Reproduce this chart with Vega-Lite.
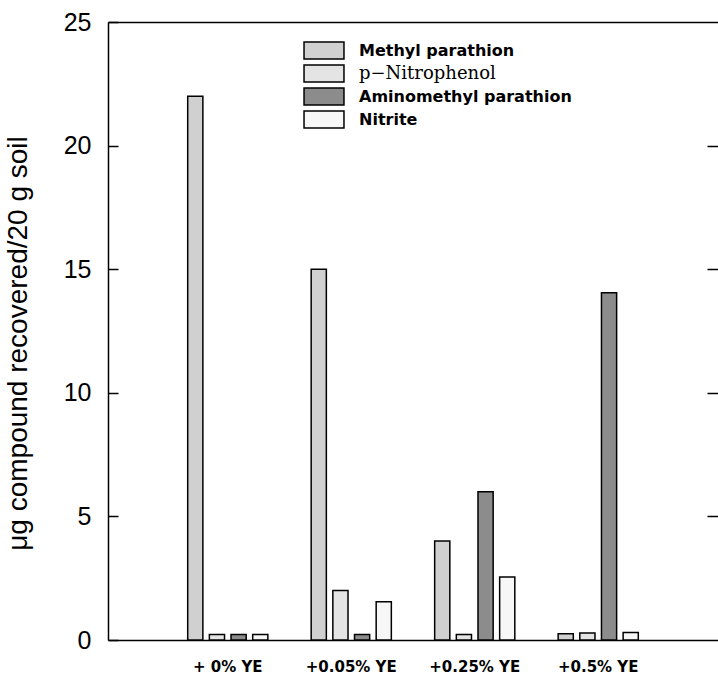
{
  "$schema": "https://vega.github.io/schema/vega-lite/v6.json",
  "autosize": {"type": "none"},
  "padding": {"left": 108, "top": 22, "right": 0, "bottom": 40},
  "width": 610,
  "height": 618,
  "background": "white",
  "config": {
    "view": {"stroke": null},
    "axis": {"domainColor": "black", "tickColor": "black", "labelColor": "black", "titleColor": "black", "grid": false, "domainWidth": 1.5, "tickWidth": 1.5}
  },
  "data": {
    "values": [
      {"treatment": "+ 0% YE", "compound": "Methyl parathion", "value": 22.0},
      {"treatment": "+ 0% YE", "compound": "p-Nitrophenol", "value": 0.22},
      {"treatment": "+ 0% YE", "compound": "Aminomethyl parathion", "value": 0.22},
      {"treatment": "+ 0% YE", "compound": "Nitrite", "value": 0.22},
      {"treatment": "+0.05% YE", "compound": "Methyl parathion", "value": 15.0},
      {"treatment": "+0.05% YE", "compound": "p-Nitrophenol", "value": 2.0},
      {"treatment": "+0.05% YE", "compound": "Aminomethyl parathion", "value": 0.22},
      {"treatment": "+0.05% YE", "compound": "Nitrite", "value": 1.55},
      {"treatment": "+0.25% YE", "compound": "Methyl parathion", "value": 4.0},
      {"treatment": "+0.25% YE", "compound": "p-Nitrophenol", "value": 0.22},
      {"treatment": "+0.25% YE", "compound": "Aminomethyl parathion", "value": 6.0},
      {"treatment": "+0.25% YE", "compound": "Nitrite", "value": 2.55},
      {"treatment": "+0.5% YE", "compound": "Methyl parathion", "value": 0.25},
      {"treatment": "+0.5% YE", "compound": "p-Nitrophenol", "value": 0.28},
      {"treatment": "+0.5% YE", "compound": "Aminomethyl parathion", "value": 14.05},
      {"treatment": "+0.5% YE", "compound": "Nitrite", "value": 0.3}
    ]
  },
  "layer": [
    {
      "mark": {"type": "bar", "stroke": "black", "strokeWidth": 1.5},
      "encoding": {
        "x": {
          "field": "treatment", "type": "nominal",
          "sort": ["+ 0% YE", "+0.05% YE", "+0.25% YE", "+0.5% YE"],
          "scale": {"paddingInner": 0, "paddingOuter": 0.47},
          "axis": {"title": null, "orient": "bottom", "ticks": false, "labelAngle": 0, "labelFont": "DejaVu Sans", "labelFontWeight": "bold", "labelFontSize": 15, "labelPadding": 19}
        },
        "xOffset": {
          "field": "compound", "type": "nominal",
          "sort": ["Methyl parathion", "p-Nitrophenol", "Aminomethyl parathion", "Nitrite"],
          "scale": {"paddingInner": 0.3, "paddingOuter": 1.2}
        },
        "y": {
          "field": "value", "type": "quantitative",
          "scale": {"domain": [0, 25]},
          "axis": {"title": "μg compound recovered/20 g soil", "values": [0, 5, 10, 15, 20, 25], "tickSize": -10, "labelPadding": 27, "labelFont": "Liberation Sans", "labelFontSize": 25, "titleFont": "Liberation Sans", "titleFontSize": 28, "titleFontWeight": "normal", "titlePadding": 31, "titleY": 321}
        },
        "fill": {
          "field": "compound", "type": "nominal",
          "scale": {"domain": ["Methyl parathion", "p-Nitrophenol", "Aminomethyl parathion", "Nitrite"], "range": ["#d0d0d0", "#e4e4e4", "#8c8c8c", "#f7f7f7"]},
          "legend": {
            "title": null, "orient": "none", "legendX": 206.5, "legendY": 19, "padding": 0,
            "symbolType": "M-2.35,-1H2.35V1H-2.35Z", "symbolSize": 289, "symbolStrokeColor": "black", "symbolStrokeWidth": 1.5, "symbolOpacity": 1,
            "labelOffset": 25.5, "labelFont": "DejaVu Sans", "labelFontWeight": "bold", "labelFontSize": 16, "labelColor": "black", "labelLimit": 400, "rowPadding": 0,
            "labelExpr": "datum.label == 'p-Nitrophenol' ? 'p−Nitrophenol' : datum.label",
            "encode": {"labels": {"update": {
              "font": {"signal": "datum.value == 'p-Nitrophenol' ? 'DejaVu Serif' : 'DejaVu Sans'"},
              "fontWeight": {"signal": "datum.value == 'p-Nitrophenol' ? 'normal' : 'bold'"},
              "fontSize": {"signal": "datum.value == 'p-Nitrophenol' ? 18 : 16"}
            }}}
          }
        }
      }
    },
    {
      "mark": {"type": "bar", "opacity": 0},
      "encoding": {
        "x": {
          "field": "treatment", "type": "nominal",
          "sort": ["+ 0% YE", "+0.05% YE", "+0.25% YE", "+0.5% YE"],
          "scale": {"paddingInner": 0, "paddingOuter": 0.47},
          "axis": {"title": null, "orient": "top", "ticks": false, "labels": false}
        },
        "xOffset": {
          "field": "compound", "type": "nominal",
          "sort": ["Methyl parathion", "p-Nitrophenol", "Aminomethyl parathion", "Nitrite"],
          "scale": {"paddingInner": 0.3, "paddingOuter": 1.2}
        },
        "y": {
          "field": "value", "type": "quantitative",
          "scale": {"domain": [0, 25]},
          "axis": {"title": null, "orient": "right", "labels": false, "domain": false, "values": [5, 10, 15, 20], "tickSize": -11}
        }
      }
    }
  ],
  "resolve": {"axis": {"x": "independent", "y": "independent"}}
}
